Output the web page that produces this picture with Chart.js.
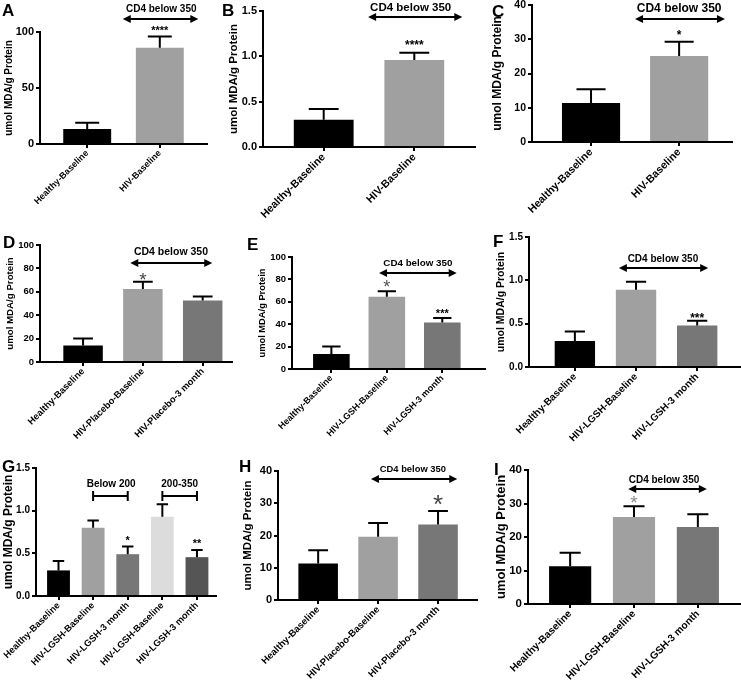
<!DOCTYPE html>
<html><head><meta charset="utf-8">
<script src="https://cdn.jsdelivr.net/npm/chart.js@4.4.1/dist/chart.umd.min.js"></script>
<style>
html,body{margin:0;padding:0;background:#fff;}
#wrap{position:relative;width:741px;height:683px;overflow:hidden;background:#fff;}
#wrap canvas{position:absolute;left:0;top:0;}
</style></head>
<body><div id="wrap"></div>
<script>
// ---------------- DATA ----------------
const catsA = ["Healthy-Baseline", "HIV-Baseline"];
const meanA = [13.5, 86];
const semA  = [5.5, 10];
const yTicksA = [0, 50, 100];
const yLabelsA = ["0", "50", "100"];

const catsB = ["Healthy-Baseline", "HIV-Baseline"];
const meanB = [0.30, 0.96];
const semB  = [0.12, 0.08];
const yTicksB = [0, 0.5, 1.0, 1.5];
const yLabelsB = ["0.0", "0.5", "1.0", "1.5"];

const catsC = ["Healthy-Baseline", "HIV-Baseline"];
const meanC = [11.4, 25.1];
const semC  = [4.0, 4.2];
const yTicksC = [0, 10, 20, 30, 40];
const yLabelsC = ["0", "10", "20", "30", "40"];

const catsD = ["Healthy-Baseline", "HIV-Placebo-Baseline", "HIV-Placebo-3 month"];
const meanD = [14, 62.5, 52.5];
const semD  = [6, 6, 3.5];
const yTicksD = [0, 20, 40, 60, 80, 100];
const yLabelsD = ["0", "20", "40", "60", "80", "100"];

const catsE = ["Healthy-Baseline", "HIV-LGSH-Baseline", "HIV-LGSH-3 month"];
const meanE = [13.5, 64.5, 41.5];
const semE  = [6.5, 5, 4];
const yTicksE = [0, 20, 40, 60, 80, 100];
const yLabelsE = ["0", "20", "40", "60", "80", "100"];

const catsF = ["Healthy-Baseline", "HIV-LGSH-Baseline", "HIV-LGSH-3 month"];
const meanF = [0.30, 0.89, 0.48];
const semF  = [0.11, 0.095, 0.055];
const yTicksF = [0, 0.5, 1.0, 1.5];
const yLabelsF = ["0.0", "0.5", "1.0", "1.5"];

const catsG = ["Healthy-Baseline", "HIV-LGSH-Baseline", "HIV-LGSH-3 month", "HIV-LGSH-Baseline", "HIV-LGSH-3 month"];
const meanG = [0.30, 0.80, 0.49, 0.93, 0.455];
const semG  = [0.11, 0.085, 0.09, 0.145, 0.085];
const yTicksG = [0, 0.5, 1.0, 1.5];
const yLabelsG = ["0.0", "0.5", "1.0", "1.5"];

const catsH = ["Healthy-Baseline", "HIV-Placebo-Baseline", "HIV-Placebo-3 month"];
const meanH = [11.3, 19.6, 23.4];
const semH  = [4.1, 4.3, 4.2];
const yTicksH = [0, 10, 20, 30, 40];
const yLabelsH = ["0", "10", "20", "30", "40"];

const catsI = ["Healthy-Baseline", "HIV-LGSH-Baseline", "HIV-LGSH-3 month"];
const meanI = [11.3, 26.0, 23.0];
const semI  = [4.0, 3.2, 3.8];
const yTicksI = [0, 10, 20, 30, 40];
const yLabelsI = ["0", "10", "20", "30", "40"];

const yTitle = "umol MDA/g Protein";
const cd4Text = "CD4 below 350";

// ---------------- LAYOUT / STYLE ----------------
const W = 741, H = 683;
const FONT = '"Liberation Sans", Arial, Helvetica, sans-serif';
const BLK = '#000000', LG = '#a0a0a0', DG = '#777777';

const panels = [
 {id:'A', cats:catsA, mean:meanA, sem:semA, yTicks:yTicksA, yLabels:yLabelsA, colors:[BLK,LG],
  box:{l:40,r:207,t:32,b:144}, xr:[-0.65,1.65], letter:{x:2,y:16},
  tickFont:11, xFont:9, titleFont:10, titleX:9,
  notes:[{type:'arrow',x1:0.49,x2:1.53,y:111.6},{type:'text',text:cd4Text,x:1.02,y:120.5,size:10},
         {type:'star',text:'****',x:1,y:103.6,size:11,bold:true,color:'#000'}]},
 {id:'B', cats:catsB, mean:meanB, sem:semB, yTicks:yTicksB, yLabels:yLabelsB, colors:[BLK,LG],
  box:{l:263,r:475,t:11,b:147}, xr:[-0.67,1.67], letter:{x:222,y:16},
  tickFont:11, xFont:10.7, titleFont:11.5, titleX:234,
  notes:[{type:'arrow',x1:0.49,x2:1.53,y:1.434},{type:'text',text:cd4Text,x:0.96,y:1.533,size:11.5},
         {type:'star',text:'****',x:1,y:1.158,size:12,bold:true,color:'#000'}]},
 {id:'C', cats:catsC, mean:meanC, sem:semC, yTicks:yTicksC, yLabels:yLabelsC, colors:[BLK,LG],
  box:{l:532,r:732,t:5,b:142}, xr:[-0.67,1.6], letter:{x:492,y:17},
  tickFont:10.5, xFont:10.7, titleFont:12, titleX:498,
  notes:[{type:'arrow',x1:0.5,x2:1.52,y:35.9},{type:'text',text:cd4Text,x:1.0,y:38.8,size:12},
         {type:'star',text:'*',x:1,y:32.1,size:12,bold:true,color:'#000'}]},
 {id:'D', cats:catsD, mean:meanD, sem:semD, yTicks:yTicksD, yLabels:yLabelsD, colors:[BLK,LG,DG],
  box:{l:40,r:232,t:245,b:362}, xr:[-0.72,2.49], letter:{x:3,y:248},
  tickFont:9.5, xFont:9.4, titleFont:9.7, titleX:10,
  notes:[{type:'arrow',x1:0.79,x2:2.16,y:84.6},{type:'text',text:cd4Text,x:1.47,y:94,size:10.5},
         {type:'star',text:'*',x:1,y:74.4,size:19,bold:false,color:'#444'}]},
 {id:'E', cats:catsE, mean:meanE, sem:semE, yTicks:yTicksE, yLabels:yLabelsE, colors:[BLK,LG,DG],
  box:{l:292,r:485,t:257,b:369}, xr:[-0.71,2.77], letter:{x:247,y:250},
  tickFont:9.5, xFont:9, titleFont:9.3, titleX:262,
  notes:[{type:'arrow',x1:0.86,x2:2.26,y:85.7},{type:'text',text:cd4Text,x:1.56,y:94.6,size:9.8},
         {type:'star',text:'*',x:1,y:76.8,size:18,bold:false,color:'#555'},
         {type:'star',text:'***',x:2,y:51.8,size:11,bold:true,color:'#000'}]},
 {id:'F', cats:catsF, mean:meanF, sem:semF, yTicks:yTicksF, yLabels:yLabelsF, colors:[BLK,LG,DG],
  box:{l:529,r:740,t:237,b:367}, xr:[-0.75,2.7], letter:{x:493,y:247},
  tickFont:10, xFont:10, titleFont:10.5, titleX:501,
  notes:[{type:'arrow',x1:0.72,x2:2.18,y:1.142},{type:'text',text:cd4Text,x:1.44,y:1.246,size:10},
         {type:'star',text:'***',x:2,y:0.6,size:12,bold:true,color:'#000'}]},
 {id:'G', cats:catsG, mean:meanG, sem:semG, yTicks:yTicksG, yLabels:yLabelsG, colors:[BLK,LG,DG,'#dcdcdc','#555555'],
  box:{l:36,r:216,t:468,b:596}, xr:[-0.65,4.55], letter:{x:2,y:472},
  tickFont:10, xFont:9.3, titleFont:12, titleX:9,
  notes:[{type:'bracket',x1:1,x2:2,y:1.172},{type:'text',text:'Below 200',x:1.52,y:1.31,size:10},
         {type:'bracket',x1:3,x2:4,y:1.172},{type:'text',text:'200-350',x:3.5,y:1.31,size:10},
         {type:'star',text:'*',x:2,y:0.68,size:11,bold:true,color:'#000'},
         {type:'star',text:'**',x:4,y:0.645,size:11,bold:true,color:'#000'}]},
 {id:'H', cats:catsH, mean:meanH, sem:semH, yTicks:yTicksH, yLabels:yLabelsH, colors:[BLK,LG,DG],
  box:{l:278,r:477,t:471,b:600}, xr:[-0.67,2.65], letter:{x:239,y:472},
  tickFont:11, xFont:9.6, titleFont:11.5, titleX:248,
  notes:[{type:'arrow',x1:0.88,x2:2.32,y:37.5},{type:'text',text:cd4Text,x:1.58,y:40.6,size:9.4},
         {type:'star',text:'*',x:2,y:31.6,size:26,bold:false,color:'#444'}]},
 {id:'I', cats:catsI, mean:meanI, sem:semI, yTicks:yTicksI, yLabels:yLabelsI, colors:[BLK,LG,DG],
  box:{l:528,r:740,t:470,b:604}, xr:[-0.66,2.66], letter:{x:494,y:475},
  tickFont:11.5, xFont:10.2, titleFont:13, titleX:501,
  notes:[{type:'arrow',x1:0.91,x2:2.14,y:34.3},{type:'text',text:cd4Text,x:1.47,y:37,size:10},
         {type:'star',text:'*',x:1,y:31.6,size:19,bold:false,color:'#888'}]}
];

const Y_W = 30, X_H = 79;

function decoPlugin(p){
  return {
    id:'deco'+p.id,
    afterDatasetsDraw(chart){
      const ctx = chart.ctx, ys = chart.scales.y;
      const meta = chart.getDatasetMeta(0);
      ctx.save();
      ctx.strokeStyle = '#000'; ctx.lineWidth = 2; ctx.lineCap = 'butt';
      meta.data.forEach((bar, i) => {
        const top = ys.getPixelForValue(p.mean[i] + p.sem[i]);
        const w = bar.width / 2;
        ctx.beginPath();
        ctx.moveTo(bar.x, bar.y); ctx.lineTo(bar.x, top);
        ctx.moveTo(bar.x - w/2, top); ctx.lineTo(bar.x + w/2, top);
        ctx.stroke();
      });
      ctx.restore();
    },
    afterDraw(chart){
      const ctx = chart.ctx, xs = chart.scales.x, ys = chart.scales.y;
      ctx.save();
      ctx.fillStyle = '#000';
      ctx.font = 'bold 17px ' + FONT;
      ctx.textAlign = 'left'; ctx.textBaseline = 'alphabetic';
      ctx.fillText(p.id, p.letter.x, p.letter.y);
      p.notes.forEach(n => {
        if (n.type === 'arrow') {
          const x1 = xs.getPixelForValue(n.x1), x2 = xs.getPixelForValue(n.x2), y = ys.getPixelForValue(n.y);
          const hl = 8, hw = 4;
          ctx.strokeStyle = '#000'; ctx.lineWidth = 2;
          ctx.beginPath(); ctx.moveTo(x1 + hl - 1, y); ctx.lineTo(x2 - hl + 1, y); ctx.stroke();
          ctx.fillStyle = '#000';
          ctx.beginPath(); ctx.moveTo(x1, y); ctx.lineTo(x1 + hl, y - hw); ctx.lineTo(x1 + hl, y + hw); ctx.closePath(); ctx.fill();
          ctx.beginPath(); ctx.moveTo(x2, y); ctx.lineTo(x2 - hl, y - hw); ctx.lineTo(x2 - hl, y + hw); ctx.closePath(); ctx.fill();
        } else if (n.type === 'bracket') {
          const x1 = xs.getPixelForValue(n.x1), x2 = xs.getPixelForValue(n.x2), y = ys.getPixelForValue(n.y);
          ctx.strokeStyle = '#000'; ctx.lineWidth = 2;
          ctx.beginPath();
          ctx.moveTo(x1, y); ctx.lineTo(x2, y);
          ctx.moveTo(x1, y - 5); ctx.lineTo(x1, y + 5);
          ctx.moveTo(x2, y - 5); ctx.lineTo(x2, y + 5);
          ctx.stroke();
        } else if (n.type === 'text') {
          ctx.fillStyle = '#000';
          ctx.font = 'bold ' + n.size + 'px ' + FONT;
          ctx.textAlign = 'center'; ctx.textBaseline = 'middle';
          ctx.fillText(n.text, xs.getPixelForValue(n.x), ys.getPixelForValue(n.y));
        } else if (n.type === 'star') {
          ctx.fillStyle = n.color;
          ctx.font = (n.bold ? 'bold ' : '') + n.size + 'px ' + FONT;
          ctx.textAlign = 'center'; ctx.textBaseline = 'alphabetic';
          ctx.fillText(n.text, xs.getPixelForValue(n.x), ys.getPixelForValue(n.y) + 0.57 * n.size);
        }
      });
      ctx.restore();
    }
  };
}

const wrap = document.getElementById('wrap');
panels.forEach(p => {
  const cv = document.createElement('canvas');
  cv.width = W; cv.height = H;
  wrap.appendChild(cv);
  const lh = p.titleFont * 1.2;
  const padLeft = p.box.l - Y_W;
  const titlePadTop = p.titleX - padLeft - lh / 2;
  new Chart(cv.getContext('2d'), {
    type: 'bar',
    data: {
      datasets: [{
        data: p.mean.map((v, i) => ({x: i, y: v})),
        backgroundColor: p.colors,
        borderWidth: 0,
        barPercentage: 0.66,
        categoryPercentage: 1
      }]
    },
    options: {
      responsive: false, animation: false, devicePixelRatio: 1,
      layout: {padding: {left: padLeft, right: W - p.box.r, top: p.box.t, bottom: Math.max(0, H - p.box.b - X_H)}},
      plugins: {legend: {display: false}, tooltip: {enabled: false}},
      scales: {
        x: {
          type: 'linear', min: p.xr[0], max: p.xr[1], offset: false,
          afterBuildTicks: s => { s.ticks = p.cats.map((c, i) => ({value: i})); },
          afterFit: s => { s.height = Math.min(X_H, H - p.box.b); s.paddingLeft = 0; s.paddingRight = 0; },
          ticks: {autoSkip: false, minRotation: 45, maxRotation: 45, padding: 0, color: '#000',
                  font: {family: FONT, size: p.xFont, weight: 'bold'},
                  callback: (v) => p.cats[v]},
          grid: {display: true, offset: false, drawOnChartArea: false, drawTicks: true, tickLength: 4, color: '#000', lineWidth: 2},
          border: {display: true, color: '#000', width: 2}
        },
        y: {
          type: 'linear', min: 0, max: p.yTicks[p.yTicks.length - 1],
          afterBuildTicks: s => { s.ticks = p.yTicks.map(v => ({value: v})); },
          afterFit: s => { s.width = Y_W; s.paddingTop = 0; s.paddingBottom = 0; },
          ticks: {padding: 2, color: '#000', font: {family: FONT, size: p.tickFont, weight: 'bold'},
                  callback: (v, i) => p.yLabels[i]},
          title: {display: true, text: yTitle, color: '#000',
                  font: {family: FONT, size: p.titleFont, weight: 'bold'},
                  padding: {top: titlePadTop, bottom: 0}},
          grid: {display: true, drawOnChartArea: false, drawTicks: true, tickLength: 4, color: '#000', lineWidth: 2},
          border: {display: true, color: '#000', width: 2}
        }
      }
    },
    plugins: [decoPlugin(p)]
  });
});
</script>
</body></html>
